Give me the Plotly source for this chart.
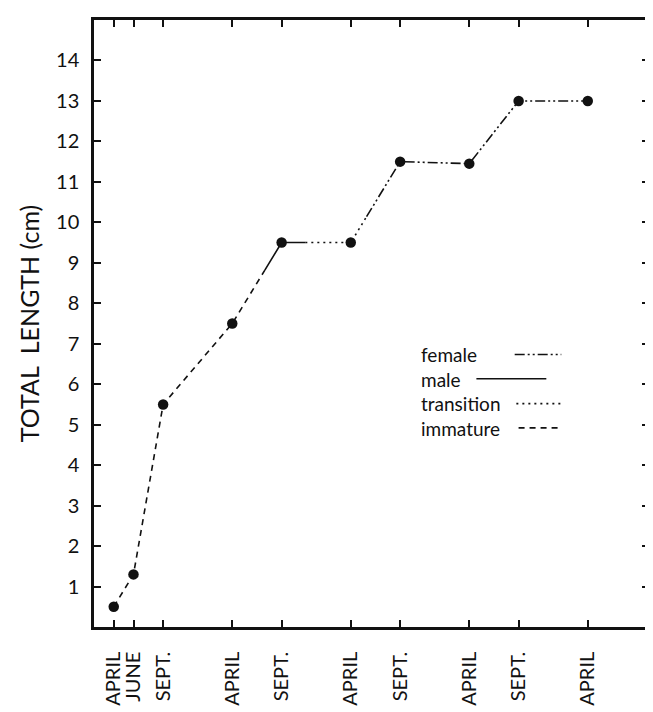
import numpy as np
import plotly.graph_objects as go

# sampling dates, counted in months from the first April
months = [0, 2, 5, 12, 17, 24, 29, 36, 41, 48]
month_labels = ["APRIL", "JUNE", "SEPT.", "APRIL", "SEPT.",
                "APRIL", "SEPT.", "APRIL", "SEPT.", "APRIL"]
length_cm = [0.5, 1.3, 5.5, 7.5, 9.5, 9.5, 11.5, 11.45, 13.0, 13.0]

# the line changes style as the animals change sex
stages = ["immature", "male", "transition", "female"]
stage_end = [15.3, 19.4, 25.6, 48]
stage_dash = {"immature": "6px,5px", "male": "solid",
              "transition": "2px,4px", "female": "10px,3px,2px,3px,2px,3px"}
legend_order = ["female", "male", "transition", "immature"]

ink = "#111111"
font = "Lato, 'Open Sans', sans-serif"

fig = go.Figure()

start = months[0]
for stage, end in zip(stages, stage_end):
    xs = [start] + [m for m in months if start < m < end] + [end]
    ys = list(np.interp(xs, months, length_cm))
    fig.add_trace(go.Scatter(x=xs, y=ys, mode="lines", name=stage,
                             line=dict(color=ink, width=1.6, dash=stage_dash[stage]),
                             showlegend=False, hoverinfo="skip"))
    start = end

fig.add_trace(go.Scatter(x=months, y=length_cm, mode="markers",
                         marker=dict(color=ink, size=10.5), showlegend=False))

# hand-made legend: labels on the left (one text block), line samples on the right
row_y = [0.449, 0.409, 0.368, 0.328]
sample_x = {"female": (0.758, 0.842), "male": (0.689, 0.815),
            "transition": (0.761, 0.842), "immature": (0.765, 0.842)}
fig.add_annotation(text="<br>".join(legend_order), x=0.587, y=sum(row_y) / len(row_y),
                   xref="paper", yref="paper", xanchor="left", yanchor="middle",
                   align="left", showarrow=False, borderpad=0,
                   font=dict(size=19, color=ink, family=font))
for name, y in zip(legend_order, row_y):
    x0, x1 = sample_x[name]
    fig.add_shape(type="line", xref="paper", yref="paper", x0=x0, x1=x1, y0=y, y1=y,
                  line=dict(color=ink, width=1.6, dash=stage_dash[name]))

fig.update_xaxes(range=[-2, 54.2], tickmode="array", tickvals=months, ticktext=month_labels,
                 tickangle=-90, ticks="inside", ticklen=7, tickwidth=1.5, tickcolor=ink,
                 showline=True, linewidth=2.5, linecolor=ink, mirror="ticks",
                 showgrid=False, zeroline=False, ticklabelstandoff=14,
                 tickfont=dict(size=20, color=ink, family=font))
fig.update_yaxes(range=[0, 15], tickmode="array", tickvals=list(range(1, 15)),
                 ticks="inside", ticklen=7, tickwidth=1.5, tickcolor=ink,
                 showline=True, linewidth=2.5, linecolor=ink, mirror="ticks",
                 showgrid=False, zeroline=False, ticklabelstandoff=8,
                 tickfont=dict(size=20, color=ink, family=font),
                 title=dict(text="TOTAL  LENGTH (cm)", standoff=10,
                            font=dict(size=25, color=ink, family=font)))

fig.update_layout(width=653, height=712, plot_bgcolor="white", paper_bgcolor="white",
                  margin=dict(l=86, r=10, t=9, b=93), showlegend=False)

fig.write_html("out.html")
